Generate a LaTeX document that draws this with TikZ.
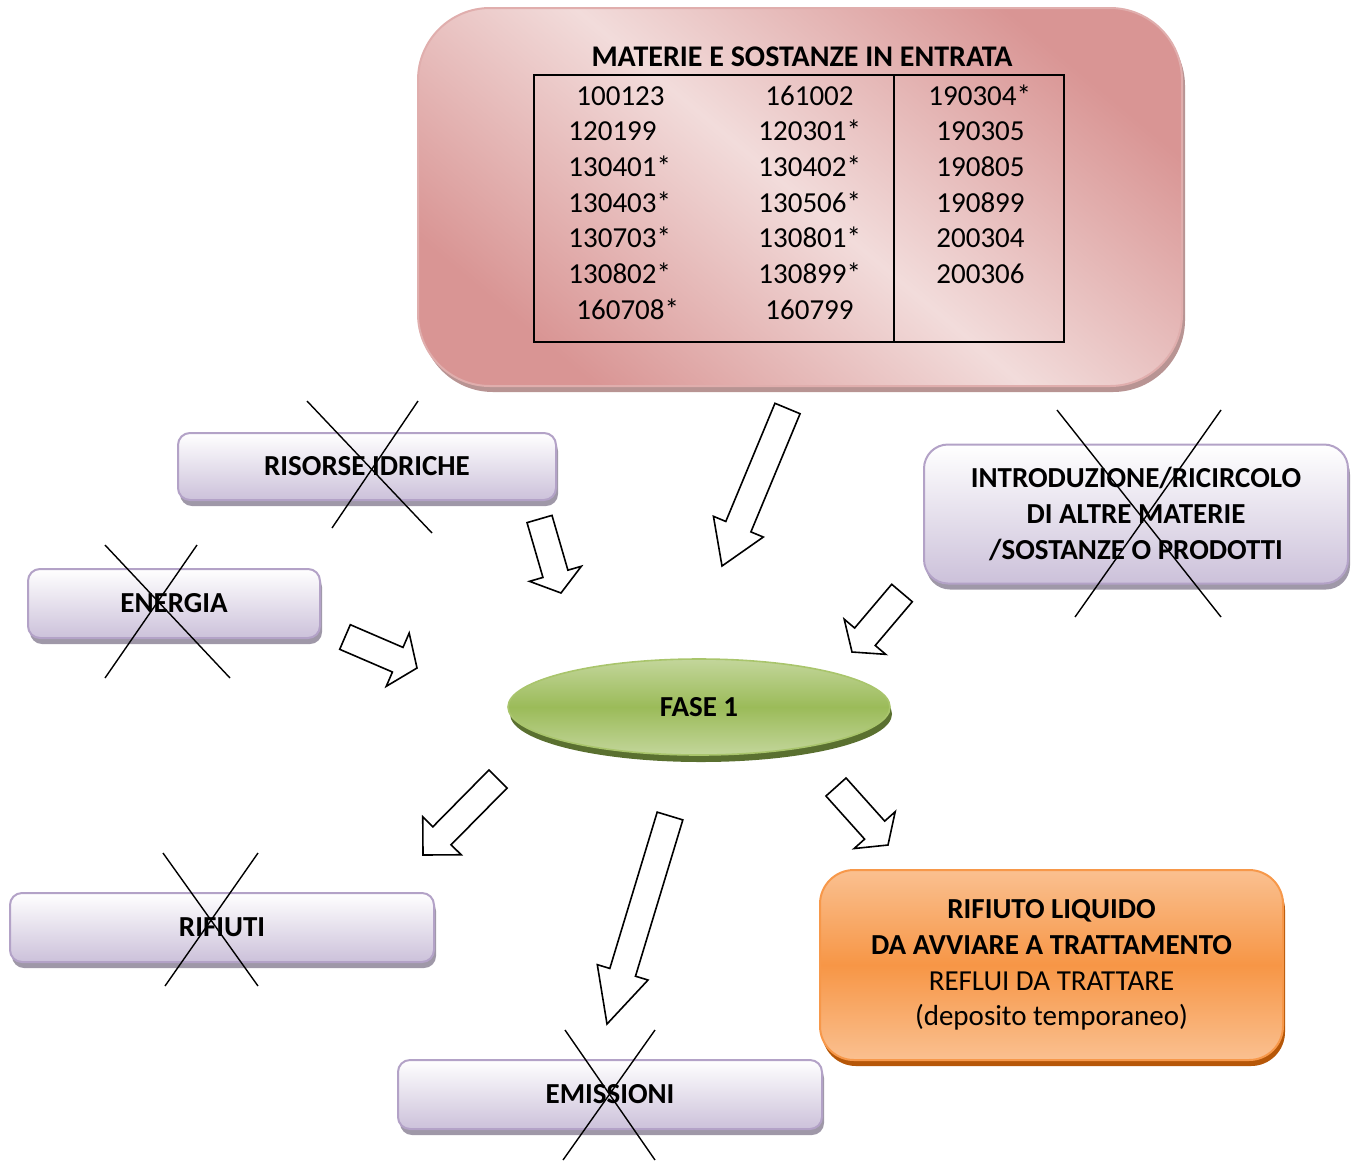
\documentclass[tikz,border=0pt]{standalone}
\usepackage{fontspec}
\setmainfont{Carlito}
\usetikzlibrary{calc,shadows,shapes.geometric}
\definecolor{pinkdark}{HTML}{D99594}
\definecolor{pinklight}{HTML}{F2DCDB}
\definecolor{pinkedge}{HTML}{E0AEAD}
\definecolor{pinkshadow}{HTML}{B89493}
\definecolor{purpletop}{HTML}{FFFFFF}
\definecolor{purplebot}{HTML}{CCC1DA}
\definecolor{purpleedge}{HTML}{B3A2C7}
\definecolor{purpleshadow}{HTML}{9F98A8}
\definecolor{greenmid}{HTML}{9BBB59}
\definecolor{greenlight}{HTML}{C3D69B}
\definecolor{greenedge}{HTML}{A9C56C}
\definecolor{greenshadow}{HTML}{5A7030}
\definecolor{orangemid}{HTML}{F79646}
\definecolor{orangelight}{HTML}{FAC090}
\definecolor{orangeedge}{HTML}{F7984A}
\definecolor{orangeshadow}{HTML}{B65708}
\newcommand\blockarrow[5]{%
  \coordinate (#1h) at ($(#2)!#5!(#1)$);
  \draw[blockarr] ($(#1)!#3!90:(#2)$) -- ($(#1h)!#3!90:(#2)$) -- ($(#1h)!#4!90:(#2)$) -- (#2)
    -- ($(#1h)!#4!-90:(#2)$) -- ($(#1h)!#3!-90:(#2)$) -- ($(#1)!#3!-90:(#2)$) -- cycle;}
\begin{document}
\begin{tikzpicture}[x=0.5pt,y=-0.5pt,
  txt/.style={font=\fontsize{14.5}{17.85}\selectfont, align=center, text=black},
  btxt/.style={font=\fontsize{14.5}{18}\selectfont\bfseries, align=center, text=black},
  num/.style={font=\fontsize{14.5}{17.85}\selectfont, inner sep=0pt, anchor=base west},
  pinkbox/.style={draw=pinkedge, line width=1pt, rounded corners=36pt,
    top color=pinkdark, bottom color=pinkdark, middle color=pinklight, shading angle=-40,
    general shadow={fill=pinkshadow, shadow xshift=1.5pt, shadow yshift=-3pt}, inner sep=0pt},
  purplebox/.style={btxt, draw=purpleedge, line width=1pt, rounded corners=6pt,
    top color=purpletop, bottom color=purplebot,
    general shadow={fill=purpleshadow, shadow xshift=1pt, shadow yshift=-3pt}, inner sep=0pt},
  phase/.style={btxt, shape=ellipse, draw=greenedge, line width=0.8pt,
    top color=greenlight, bottom color=greenlight, middle color=greenmid,
    general shadow={fill=greenshadow, shadow xshift=1pt, shadow yshift=-3.5pt}, inner sep=0pt},
  orangebox/.style={txt, draw=orangeedge, line width=1pt, rounded corners=17pt,
    top color=orangelight, bottom color=orangelight, middle color=orangemid,
    general shadow={fill=orangeshadow, shadow xshift=1pt, shadow yshift=-3pt}, inner sep=0pt},
  crossline/.style={black, line width=0.7pt},
  blockarr/.style={draw=black, fill=white, line width=0.8pt, line join=miter}]
\useasboundingbox (0,0) rectangle (1353,1162);

% top input box
\node[pinkbox, minimum width=382pt, minimum height=189pt] (input) at (800,197) {};
\node[btxt, font=\fontsize{15}{18}\selectfont\bfseries, anchor=base, inner sep=0pt] (title) at (802,66) {MATERIE E SOSTANZE IN ENTRATA};
\draw[black, line width=0.7pt] (534,75) rectangle (1064,342);
\draw[black, line width=0.7pt] (894,75) -- (894,342);
\foreach \t/\x [count=\i] in {100123/576,120199/568,130401*/568,130403*/568,130703*/568,130802*/568,160708*/576}
  \node[num] (ca\i) at (\x,{105+35.7*(\i-1)}) {\t};
\foreach \t/\x [count=\i] in {161002/765,120301*/758,130402*/758,130506*/758,130801*/758,130899*/758,160799/765}
  \node[num] (cb\i) at (\x,{105+35.7*(\i-1)}) {\t};
\foreach \t/\x [count=\i] in {190304*/928,190305/936,190805/936,190899/936,200304/936,200306/936}
  \node[num] (cc\i) at (\x,{105+35.7*(\i-1)}) {\t};

% side boxes
\node[purplebox, minimum width=189pt, minimum height=33.5pt] (ris) at (367,466.5) {RISORSE IDRICHE};
\node[purplebox, minimum width=146pt, minimum height=34.5pt] (ene) at (174,603.5) {ENERGIA};
\node[purplebox, rounded corners=12pt, minimum width=212pt, minimum height=69.5pt] (intro) at (1136,514)
  {INTRODUZIONE/RICIRCOLO\\DI ALTRE MATERIE\\/SOSTANZE O PRODOTTI};
\node[purplebox, minimum width=212pt, minimum height=34.5pt] (rif) at (222,927.5) {RIFIUTI};
\node[purplebox, minimum width=212pt, minimum height=34.5pt] (emi) at (610,1094.5) {EMISSIONI};

% crosses
\draw[crossline] (307,401) -- (432,533);
\draw[crossline] (418,401) -- (332,528);
\draw[crossline] (105,545) -- (230,678);
\draw[crossline] (197,545) -- (105,678);
\draw[crossline] (1057,410) -- (1221,617);
\draw[crossline] (1221,410) -- (1075,617);
\draw[crossline] (163,853) -- (258,986);
\draw[crossline] (258,853) -- (165,986);
\draw[crossline] (565,1030) -- (655,1160);
\draw[crossline] (655,1030) -- (563,1160);

% phase
\node[phase, minimum width=191pt, minimum height=48pt] (fase) at (699,707) {FASE 1};

% output box
\node[orangebox, minimum width=231.5pt, minimum height=95pt] (out) at (1051.5,965)
  {\textbf{RIFIUTO LIQUIDO}\\\textbf{DA AVVIARE A TRATTAMENTO}\\REFLUI DA TRATTARE\\(deposito temporaneo)};

% block arrows
\coordinate (ta) at (787.5,408.5); \coordinate (pa) at (722,566);
\coordinate (tb) at (539.5,519);   \coordinate (pb) at (561,593);
\coordinate (tc) at (345,637);     \coordinate (pc) at (417,668);
\coordinate (td) at (902,593);     \coordinate (pd) at (852,652);
\coordinate (te) at (498,779);     \coordinate (pe) at (423,855);
\coordinate (tf) at (670,816);     \coordinate (pf) at (607,1024);
\coordinate (tg) at (836,787);     \coordinate (pg) at (888,845);
\blockarrow{ta}{pa}{6.8pt}{13.5pt}{21.3pt}
\blockarrow{tb}{pb}{6.5pt}{13.5pt}{10pt}
\blockarrow{tc}{pc}{6.7pt}{14.5pt}{10.5pt}
\blockarrow{td}{pd}{6.75pt}{13.6pt}{10pt}
\blockarrow{te}{pe}{6.4pt}{13.5pt}{13.5pt}
\blockarrow{tf}{pf}{6.7pt}{13.25pt}{27pt}
\blockarrow{tg}{pg}{6.75pt}{13.8pt}{10pt}
\end{tikzpicture}
\end{document}
